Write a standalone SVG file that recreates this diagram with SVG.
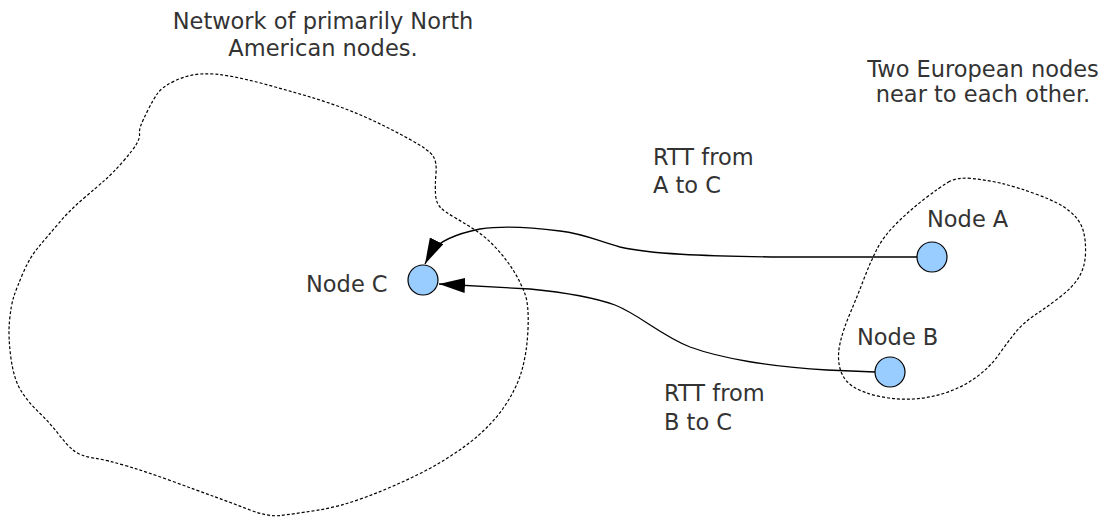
<svg xmlns="http://www.w3.org/2000/svg" width="1118" height="517" viewBox="0 0 1118 517">
  <style>
    .region { fill: none; stroke: #000; stroke-width: 1.2; stroke-dasharray: 3 2; }
    .link { fill: none; stroke: #000; stroke-width: 1.3; }
    .node { fill: #99ccff; stroke: #000; stroke-width: 1.2; }
    .label { font-family: "DejaVu Sans", "Liberation Sans", sans-serif; font-size: 22.5px; fill: #333; }
  </style>
  <defs>
    <marker id="arrow" markerUnits="userSpaceOnUse" markerWidth="27" markerHeight="16" refX="26" refY="7.5" orient="auto">
      <path d="M0,0 L26,7.5 L0,15 Z" fill="#000"/>
    </marker>
  </defs>
  <rect width="1118" height="517" fill="#fff"/>

  <!-- North American region -->
  <g id="region-na">
    <path class="region" d="M200.5,74 Q214,73 232,76.5 Q250,80 268,85 Q286,90 303.5,95 Q321,100 339,106.5 Q357,113 375,121.5 Q393,130 411,140 Q429,150 433,156 Q437,162 436,173.5 Q435,185 435.5,194 Q436,203 440.5,207.5 Q445,212 455.5,218 Q466,224 476.5,231 Q487,238 497,249 Q507,260 514,271.5 Q521,283 525,294 Q529,305 528,329 Q527,353 521.5,371.5 Q516,390 503,408.5 Q490,427 468.5,443.5 Q447,460 420,473.5 Q393,487 366,497 Q339,507 316,510.5 Q293,514 280.5,515.5 Q268,517 250,510 Q232,503 214,496.5 Q196,490 173,481.5 Q150,473 128.5,466.5 Q107,460 93.5,458 Q80,456 73,450 Q66,444 58,433.5 Q50,423 39.5,413 Q29,403 21.5,391.5 Q14,380 11,358.5 Q8,337 9.5,321 Q11,305 14,296 Q17,287 23.5,272 Q30,257 38.5,247 Q47,237 58.5,223.5 Q70,210 83.5,198.5 Q97,187 105,180 Q113,173 123,161.5 Q133,150 136.5,144 Q140,138 139.5,134 Q139,130 141,125 Q143,120 148,110 Q153,100 157.5,93.5 Q162,87 174.5,81 Q187,75 200.5,74 Z"/>
    <text class="label" x="323" y="29" text-anchor="middle">Network of primarily North</text>
    <text class="label" x="323" y="56" text-anchor="middle">American nodes.</text>
  </g>

  <!-- European region -->
  <g id="region-eu">
    <path class="region" d="M948.5,182 Q957,177 972,178.5 Q987,180 1002,183.5 Q1017,187 1038.5,195 Q1060,203 1070,211.5 Q1080,220 1083,230 Q1086,240 1085.5,253.5 Q1085,267 1079,277 Q1073,287 1060,297 Q1047,307 1035,315 Q1023,323 1015,333 Q1007,343 998.5,355 Q990,367 976.5,377 Q963,387 946.5,392.5 Q930,398 913.5,399 Q897,400 880,396.5 Q863,393 853,386.5 Q843,380 840,368.5 Q837,357 840,343.5 Q843,330 850,313.5 Q857,297 863.5,280 Q870,263 876.5,250 Q883,237 896.5,223.5 Q910,210 925,198.5 Q940,187 948.5,182 Z"/>
    <text class="label" x="983" y="77" text-anchor="middle">Two European nodes</text>
    <text class="label" x="983" y="102" text-anchor="middle">near to each other.</text>
  </g>

  <!-- connectors -->
  <g id="connectors">
    <path id="link-a-c" class="link" marker-end="url(#arrow)" d="M917,257 L780,257 C700,256 650,254 620,247 C595,240 585,234 560,231 C530,227 500,226 480,229 C460,233 440,240 431,252 L425,264"/>
    <path id="link-b-c" class="link" marker-end="url(#arrow)" d="M875,372 L827,370 C770,367 720,358 690,347 C660,335 640,315 615,305 C590,296 560,292 530,289 L439,284"/>
    <text class="label" x="653" y="165">RTT from</text>
    <text class="label" x="653" y="193">A to C</text>
    <text class="label" x="664" y="401">RTT from</text>
    <text class="label" x="664" y="430">B to C</text>
  </g>

  <g id="node-a">
    <circle class="node" cx="932" cy="257" r="15"/>
    <text class="label" x="927" y="227">Node A</text>
  </g>
  <g id="node-b">
    <circle class="node" cx="890" cy="372" r="15"/>
    <text class="label" x="857" y="345">Node B</text>
  </g>
  <g id="node-c">
    <circle class="node" cx="423" cy="280" r="15"/>
    <text class="label" x="306" y="292">Node C</text>
  </g>
</svg>
